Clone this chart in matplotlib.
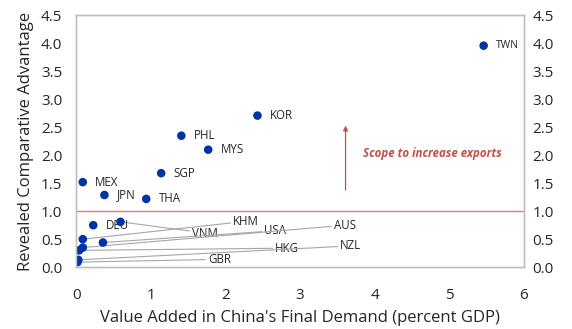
import matplotlib
matplotlib.use("Agg")
import matplotlib.pyplot as plt

plt.rcParams['font.family'] = ['Open Sans', 'DejaVu Sans']

countries = ["TWN", "KOR", "PHL", "MYS", "SGP", "MEX", "JPN", "THA", "DEU",
             "VNM", "KHM", "USA", "AUS", "HKG", "NZL", "GBR"]
va_china = [5.46, 2.43, 1.41, 1.77, 1.14, 0.09, 0.38, 0.94, 0.23,
            0.595, 0.09, 0.36, 0.09, 0.04, 0.03, 0.02]
rca = [3.96, 2.71, 2.35, 2.10, 1.68, 1.52, 1.29, 1.22, 0.75,
       0.81, 0.50, 0.44, 0.35, 0.30, 0.13, 0.09]

# label placement for the crowded ones (leader lines)
leader_pos = {"KHM": (2.28, 0.82), "VNM": (1.73, 0.61), "USA": (2.67, 0.65),
              "AUS": (3.60, 0.75), "HKG": (2.83, 0.34), "NZL": (3.68, 0.38),
              "GBR": (1.92, 0.14)}

threshold = 1.0
yticks = [0.0, 0.5, 1.0, 1.5, 2.0, 2.5, 3.0, 3.5, 4.0, 4.5]
xticks = [0, 1, 2, 3, 4, 5, 6]

fig = plt.figure(figsize=(5.72, 3.29), dpi=100)
ax = fig.add_axes([0.133, 0.188, 0.783, 0.765])

blue = "#0033a6"
red = "#c0504d"
gray = "#bfbfbf"
txt = "#262626"

ax.axhline(threshold, color="#e07a78", lw=1.0, zorder=1)

for c, x, y in zip(countries, va_china, rca):
    if c in leader_pos:
        ax.annotate(c, xy=(x, y), xytext=leader_pos[c], fontsize=8.3, color=txt,
                    ha="center", va="center",
                    arrowprops=dict(arrowstyle="-", color="#a6a6a6", lw=0.8,
                                    shrinkA=0, shrinkB=0), zorder=2)
    else:
        ax.annotate(c, xy=(x, y), xytext=(9, 0), textcoords="offset points",
                    fontsize=7.5 if c == "TWN" else 8.3, color=txt,
                    ha="left", va="center", zorder=3)

ax.scatter(va_china, rca, s=38, color=blue, zorder=4, edgecolors="none")

ax.annotate("", xy=(3.61, 2.53), xytext=(3.61, 1.38),
            arrowprops=dict(arrowstyle="-|>", color=red, lw=0.9,
                            mutation_scale=7, shrinkA=0, shrinkB=0))
ax.text(3.85, 2.04, "Scope to increase exports", color=red, fontsize=8.3,
        fontweight="bold", fontstyle="italic", ha="left", va="center")

ax.set_xlim(0, 6)
ax.set_ylim(0, 4.5)
ax.set_xticks(xticks)
ax.set_yticks(yticks)
ax.set_yticklabels([f"{v:.1f}" for v in yticks])
ax.tick_params(axis="y", length=0, labelsize=11, colors=txt, pad=10)
ax.tick_params(axis="x", length=0, labelsize=11, colors=txt, pad=15)

ax2 = ax.twinx()
ax2.set_ylim(0, 4.5)
ax2.set_yticks(yticks)
ax2.set_yticklabels([f"{v:.1f}" for v in yticks])
ax2.tick_params(length=0, labelsize=11, colors=txt, pad=6)

for a in (ax, ax2):
    for s in a.spines.values():
        s.set_color(gray)
        s.set_linewidth(1.0)

ax.set_xlabel("Value Added in China's Final Demand (percent GDP)", fontsize=12,
              color=txt, labelpad=5)
ax.set_ylabel("Revealed Comparative Advantage", fontsize=12, color=txt,
              labelpad=5)

fig.savefig("out.png", dpi=100)
